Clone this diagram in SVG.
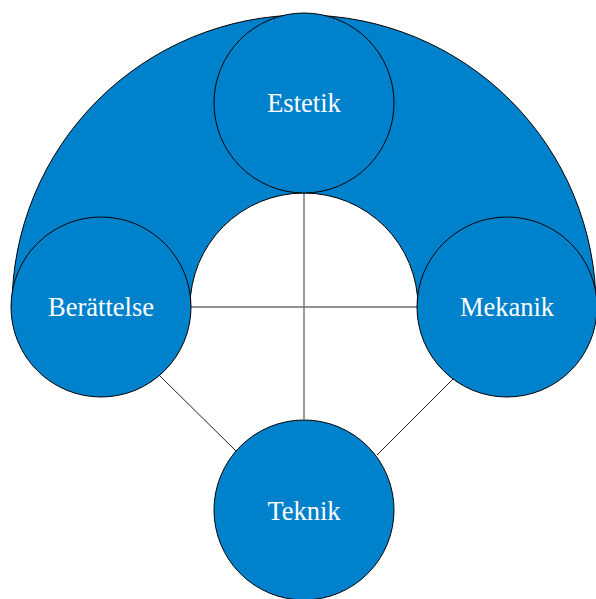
<svg xmlns="http://www.w3.org/2000/svg" width="596" height="599" viewBox="0 0 596 599">
<style>
.node{fill:#0081CC;stroke:#000;stroke-width:1}
.lbl{fill:#fff;font-family:"Liberation Serif",serif;font-size:26.5px;text-anchor:middle;dominant-baseline:central}
.con{stroke:#222;stroke-width:1;fill:none}
</style>
<rect width="596" height="599" fill="#fff"/>
<g id="band">
<path class="node" d="M 12 307 A 292 292 0 0 1 596 307 L 418 307 A 114 114 0 0 0 190 307 Z"/>
</g>
<g id="connectors">
<line class="con" x1="190" y1="307" x2="417" y2="307"/>
<line x1="304" y1="193" x2="304" y2="419" stroke="#777" stroke-width="1.5"/>
<line class="con" x1="159" y1="375" x2="236" y2="451"/>
<line class="con" x1="454" y1="378" x2="377" y2="455"/>
</g>
<g id="estetik"><circle class="node" cx="304" cy="103" r="90"/><text class="lbl" x="304" y="103">Estetik</text></g>
<g id="berattelse"><circle class="node" cx="101" cy="307" r="90"/><text class="lbl" x="101" y="307">Berättelse</text></g>
<g id="mekanik"><circle class="node" cx="507" cy="307" r="90"/><text class="lbl" x="507" y="307">Mekanik</text></g>
<g id="teknik"><circle class="node" cx="304" cy="510" r="90"/><text class="lbl" x="304" y="511">Teknik</text></g>
</svg>
